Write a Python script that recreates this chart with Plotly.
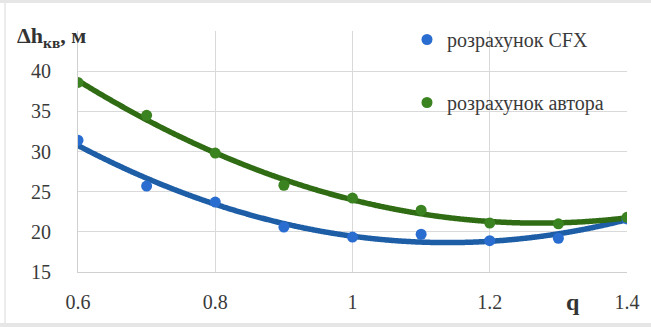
import numpy as np
import plotly.graph_objects as go

# Relative flow rate q and head difference Δh_кв, m
q = [0.6, 0.7, 0.8, 0.9, 1.0, 1.1, 1.2, 1.3, 1.4]
dh_cfx = [31.4, 25.7, 23.7, 20.6, 19.35, 19.7, 18.9, 19.2, 21.6]
dh_author = [38.6, 34.5, 29.8, 25.8, 24.2, 22.7, 21.1, 21.0, 21.8]

series_names = ["розрахунок CFX", "розрахунок автора"]
x_ticks = [0.6, 0.8, 1.0, 1.2, 1.4]
x_ticktext = ["0.6", "0.8", "1", "1.2", "1.4"]
y_ticks = [15, 20, 25, 30, 35, 40]

W, H = 651, 327
ML, MR, MT, MB = 78, 24, 31, 55
PW, PH = W - ML - MR, H - MT - MB


def px_x(x):
    return (x - ML) / PW


def px_y(y):
    return 1 - (y - MT) / PH


blue_line, blue_dot = "#1d5ea6", "#2a6dd0"
green_line, green_dot = "#2f6c14", "#3b8221"
serif = "Liberation Serif, serif"

fig = go.Figure()

# second-order polynomial trend lines
qq = np.linspace(min(q), max(q), 300)
for ys, col in [(dh_cfx, blue_line), (dh_author, green_line)]:
    coef = np.polyfit(q, ys, 2)
    fig.add_trace(go.Scatter(x=qq, y=np.polyval(coef, qq), mode="lines",
                             line=dict(color=col, width=5.5, shape="spline"),
                             showlegend=False, hoverinfo="skip"))

for i, (ys, col) in enumerate([(dh_cfx, blue_dot), (dh_author, green_dot)]):
    fig.add_trace(go.Scatter(x=q, y=ys, mode="markers", name=series_names[i],
                             legendgroup=f"g{i}",
                             marker=dict(color=col, size=11)))

fig.update_layout(
    width=W, height=H,
    margin=dict(l=ML, r=MR, t=MT, b=MB),
    paper_bgcolor="white", plot_bgcolor="white",
    font=dict(family=serif, color="#3a3a3a"),
    xaxis=dict(range=[0.6, 1.4], tickvals=x_ticks, ticktext=x_ticktext,
               showgrid=True, gridcolor="#d9d9d9", gridwidth=1,
               showline=True, linecolor="#d0d0d0", zeroline=False,
               tickfont=dict(size=20, family=serif), ticklabelstandoff=12),
    yaxis=dict(range=[15, 45], tickvals=y_ticks,
               showgrid=True, gridcolor="#d9d9d9", gridwidth=1,
               showline=True, linecolor="#d0d0d0", zeroline=False,
               tickfont=dict(size=20, family=serif), ticklabelstandoff=22),
    legend=dict(x=px_x(407), y=px_y(20), xanchor="left", yanchor="top",
                bgcolor="rgba(0,0,0,0)", borderwidth=0,
                font=dict(size=20, family=serif, color="#3a3a3a"),
                tracegroupgap=34, traceorder="grouped"),
    showlegend=True,
)

# white legend area hiding the gridlines behind it
fig.add_shape(type="rect", xref="paper", yref="paper", layer="between",
              x0=px_x(407), x1=px_x(651), y0=px_y(147), y1=px_y(20),
              fillcolor="white", line=dict(width=0))

# thin frame around the chart area
frame = "#e6e6e6"
fig.add_shape(type="rect", xref="paper", yref="paper", layer="above",
              x0=px_x(0), x1=px_x(651), y0=px_y(0), y1=px_y(3),
              fillcolor=frame, line=dict(width=0))
fig.add_shape(type="rect", xref="paper", yref="paper", layer="above",
              x0=px_x(0), x1=px_x(651), y0=px_y(327), y1=px_y(323),
              fillcolor=frame, line=dict(width=0))
fig.add_shape(type="line", xref="paper", yref="paper", layer="above",
              x0=px_x(5), x1=px_x(5), y0=px_y(323), y1=px_y(3),
              line=dict(color=frame, width=1.5))

fig.add_annotation(text="<b>Δh<sub>кв</sub>, м</b>", xref="paper", yref="paper",
                   x=px_x(15), y=px_y(37), xanchor="left", yanchor="middle",
                   showarrow=False, font=dict(size=22, family=serif, color="#333333"))
fig.add_annotation(text="<b>q</b>", xref="paper", yref="paper",
                   x=px_x(573), y=px_y(302), xanchor="center", yanchor="middle",
                   showarrow=False, font=dict(size=24, family=serif, color="#333333"))

fig.write_html("out.html")
